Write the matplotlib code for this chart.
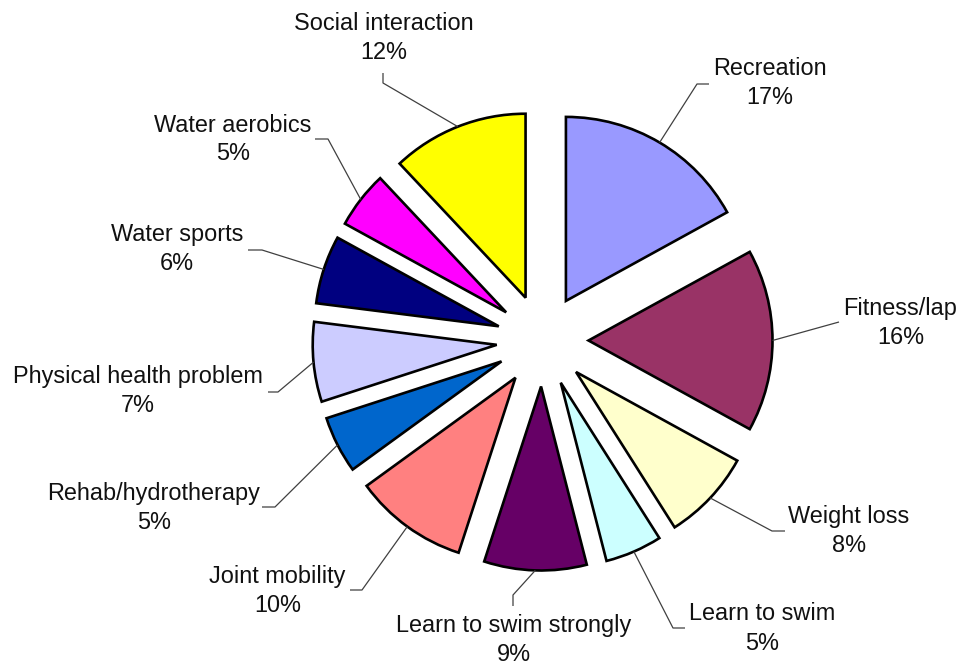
import numpy as np
import matplotlib
matplotlib.use("Agg")
import matplotlib.pyplot as plt

# ---- data ----
categories = ["Recreation", "Fitness/lap", "Weight loss", "Learn to swim",
              "Learn to swim strongly", "Joint mobility", "Rehab/hydrotherapy",
              "Physical health problem", "Water sports", "Water aerobics",
              "Social interaction"]
values = [17, 16, 8, 5, 9, 10, 5, 7, 6, 5, 12]
colors = ["#9999FF", "#993366", "#FFFFCC", "#CCFFFF", "#660066", "#FF8080",
          "#0066CC", "#CCCCFF", "#000080", "#FF00FF", "#FFFF00"]

# ---- layout (pixels from top-left of the 962x665 figure) ----
W, H = 962, 665
CX, CY = 542.5, 340.5      # pie centre
R = 184.0                  # pie radius in px
EXPLODE = 0.25
# label centre x, first-line baseline y
label_pos = [(770, 75), (900.5, 314.5), (849, 522.5), (762.5, 620.5),
             (514, 632), (277.5, 583.5), (154, 500), (138, 383.5),
             (177, 241.5), (233, 131.5), (383.5, 30)]
# leader elbow and end points
elbows = [(697, 84), (839, 322), (772, 531), (673, 628), (513, 595),
          (362, 590), (275, 507), (278, 392), (262, 250), (328, 139), (383, 83)]
ends = [(709, 84), (839, 322), (785, 531), (685, 628), (513, 606),
        (350, 590), (262, 507), (268, 392), (248, 250), (315, 139), (383, 73)]


def px2d(px, py):
    return (px - CX) / R, (CY - py) / R


plt.rcParams['font.family'] = ['Liberation Sans', 'DejaVu Sans']
fig = plt.figure(figsize=(W / 100, H / 100), dpi=100)
ax = fig.add_axes([0, 0, 1, 1])

wedges, _ = ax.pie(values, colors=colors, startangle=90, counterclock=False,
                   explode=[EXPLODE] * len(values), radius=1, center=(0, 0),
                   wedgeprops=dict(edgecolor="black", linewidth=1.9))

x0, y1 = px2d(0, 0)
x1, y0 = px2d(W, H)
ax.set_xlim(x0, x1)
ax.set_ylim(y0, y1)
ax.set_aspect('auto')
ax.axis('off')

total = float(sum(values))
fs = 16.9
linegap = 29.0
for w, cat, v, lp, el, en in zip(wedges, categories, values, label_pos, elbows, ends):
    thm = np.deg2rad((w.theta1 + w.theta2) / 2.0)
    cx, cy = w.center
    ax_pt = (cx + w.r * np.cos(thm), cy + w.r * np.sin(thm))
    e1 = px2d(*el)
    e2 = px2d(*en)
    ax.plot([ax_pt[0], e1[0], e2[0]], [ax_pt[1], e1[1], e2[1]],
            color="#404040", lw=0.9, solid_capstyle='butt', zorder=1)
    tx, ty = px2d(lp[0], lp[1])
    ax.text(tx, ty, cat, ha='center', va='baseline', fontsize=fs, color='#111111')
    tx2, ty2 = px2d(lp[0], lp[1] + linegap)
    ax.text(tx2, ty2, f"{round(v / total * 100):d}%", ha='center', va='baseline',
            fontsize=fs, color='#111111')

fig.savefig("out.png", dpi=100)
